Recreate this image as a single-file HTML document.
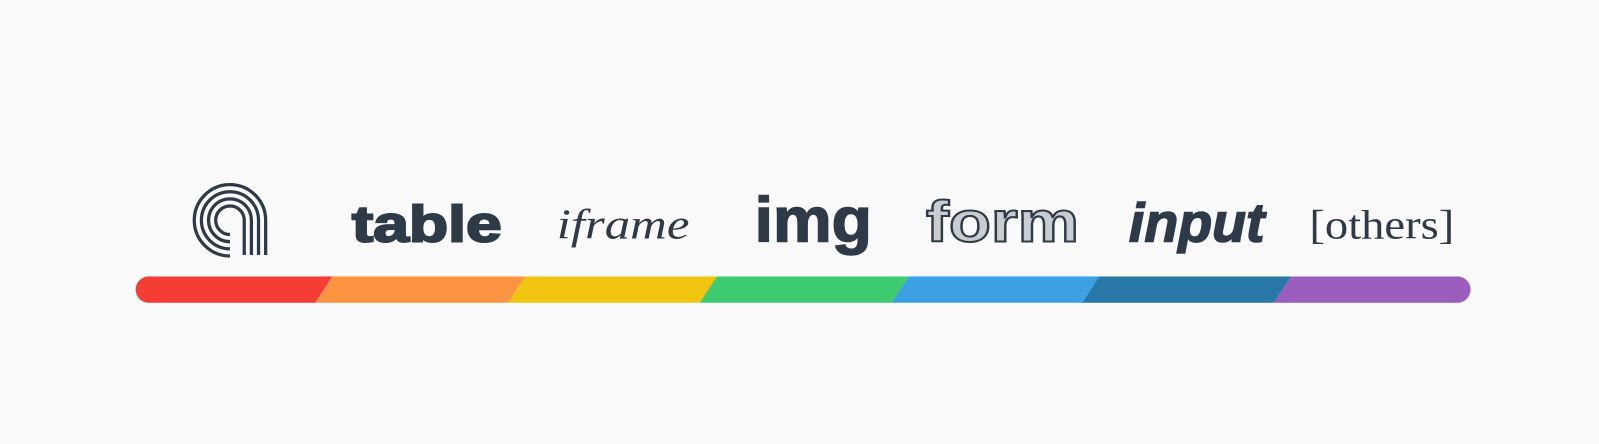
<!DOCTYPE html>
<html><head><meta charset="utf-8"><style>
html,body{margin:0;padding:0;background:#fafafa;}
svg{display:block;}
</style></head><body>
<svg width="1599" height="444" viewBox="0 0 1599 444">
<rect width="1599" height="444" fill="#fafafa"/>
<g transform="scale(1.0198)">
<g fill="none" stroke="#2f3a48" stroke-width="3.2">
<path d="M260.5,250 V216 A35,35 0 1 0 225.5,251"/>
<path d="M253.5,250 V216 A28,28 0 1 0 225.5,244"/>
<path d="M246.5,250 V216 A21,21 0 1 0 225.5,237"/>
<path d="M239.5,250 V216 A14,14 0 1 0 225.5,230"/>
</g>
<g fill="#2f3a48">
<text x="345" y="237" font-family="Liberation Sans, sans-serif" font-weight="900" font-size="50" textLength="147" lengthAdjust="spacingAndGlyphs" stroke="#2f3a48" stroke-width="2">table</text>
<text x="546" y="234" font-family="Liberation Serif, serif" font-style="italic" font-size="42" textLength="130" lengthAdjust="spacingAndGlyphs">iframe</text>
<text x="740" y="237" font-family="Liberation Sans, sans-serif" font-weight="bold" font-size="62" textLength="115" lengthAdjust="spacingAndGlyphs" stroke="#2f3a48" stroke-width="1.5">img</text>
<text x="908" y="237" font-family="Liberation Sans, sans-serif" font-weight="bold" font-size="56" textLength="150" lengthAdjust="spacingAndGlyphs" fill="#c9ccd1" stroke="#2f3a48" stroke-width="2">form</text>
<text x="1107" y="237" font-family="Liberation Sans, sans-serif" font-weight="bold" font-style="italic" font-size="54" textLength="133" lengthAdjust="spacingAndGlyphs" stroke="#2f3a48" stroke-width="1.5">input</text>
<text x="1284" y="234" font-family="Liberation Serif, serif" font-size="40" textLength="142" lengthAdjust="spacingAndGlyphs">[others]</text>
</g>
<defs><clipPath id="bc"><rect x="133" y="271" width="1309" height="26" rx="13"/></clipPath></defs>
<g clip-path="url(#bc)">
<polygon fill="#f53d36" points="120,271 326,271 309,297 120,297"/>
<polygon fill="#fb9440" points="326,271 515,271 498,297 309,297"/>
<polygon fill="#f1c40f" points="515,271 703,271 686,297 498,297"/>
<polygon fill="#3ecb70" points="703,271 891,271 874,297 686,297"/>
<polygon fill="#3ca1e3" points="891,271 1078,271 1061,297 874,297"/>
<polygon fill="#2878a8" points="1078,271 1266,271 1249,297 1061,297"/>
<polygon fill="#9b5ebf" points="1266,271 1460,271 1460,297 1249,297"/>
</g>
</g>
</svg>
</body></html>
